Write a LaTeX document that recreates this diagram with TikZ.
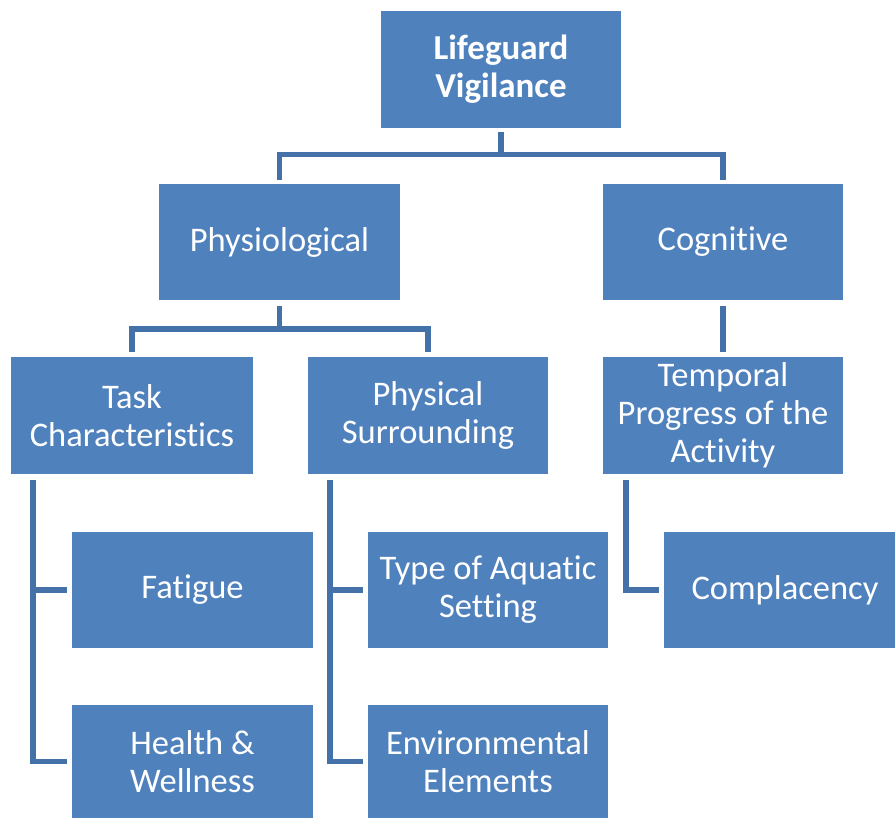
\documentclass[tikz,border=0pt]{standalone}
\usepackage{fontspec}
\setmainfont{Carlito}[Ligatures={NoCommon}]
\definecolor{boxblue}{HTML}{4F81BD}
\definecolor{lineblue}{HTML}{4472A8}
\begin{document}
\begin{tikzpicture}[x=1pt,y=1pt,
  box/.style={fill=boxblue,draw=none,text=white,align=center,inner sep=0pt,
    font=\fontsize{34.5}{38}\selectfont},
  conn/.style={draw=lineblue,line width=5.5pt}]
\useasboundingbox (0,0) rectangle (895,-819);
\node[box,minimum width=240,minimum height=117,font=\fontsize{35}{38}\selectfont\bfseries] (top) at (501,-69.5) {Lifeguard\\Vigilance};
\node[box,minimum width=241,minimum height=116] (phys) at (279.5,-242) {Physiological};
\node[box,minimum width=240,minimum height=116] (cog) at (723,-242) {Cognitive};
\node[box,minimum width=242,minimum height=117] (task) at (132,-415.5) {Task\\Characteristics};
\node[box,minimum width=240,minimum height=117] (sur) at (428,-415.5) {Physical\\Surrounding};
\node[box,minimum width=240,minimum height=117] (temp) at (723,-415.5) {Temporal\\Progress of the\\Activity};
\node[box,minimum width=241,minimum height=116] (fat) at (192.5,-590) {Fatigue};
\node[box,minimum width=241,minimum height=113] (health) at (192.5,-761.5) {Health \&\\Wellness};
\node[box,minimum width=240,minimum height=116] (type) at (488,-590) {Type of Aquatic\\Setting};
\node[box,minimum width=240,minimum height=113] (env) at (488,-761.5) {Environmental\\Elements};
\node[box,minimum width=242,minimum height=116] (comp) at (785,-590) {Complacency};
% top level
\draw[conn] ([yshift=-4]top.south) -- ++(0,-22.5) -| ([yshift=4]phys.north);
\draw[conn] ([yshift=-4]top.south) -- ++(0,-22.5) -| ([yshift=4]cog.north);
% physiological
\draw[conn] ([yshift=-6]phys.south) -- ++(0,-23) -| ([yshift=5]task.north);
\draw[conn] ([yshift=-6]phys.south) -- ++(0,-23) -| ([yshift=5]sur.north);
% cognitive
\draw[conn] ([yshift=-6]cog.south) -- ([yshift=5]temp.north);
% brackets
\draw[conn] ([xshift=22,yshift=-6]task.south west) |- ([xshift=-5]health.west);
\draw[conn] ([xshift=22,yshift=-6]task.south west) |- ([xshift=-5]fat.west);
\draw[conn] ([xshift=22,yshift=-6]sur.south west) |- ([xshift=-5]env.west);
\draw[conn] ([xshift=22,yshift=-6]sur.south west) |- ([xshift=-5]type.west);
\draw[conn] ([xshift=23,yshift=-6]temp.south west) |- ([xshift=-5]comp.west);
\end{tikzpicture}
\end{document}
